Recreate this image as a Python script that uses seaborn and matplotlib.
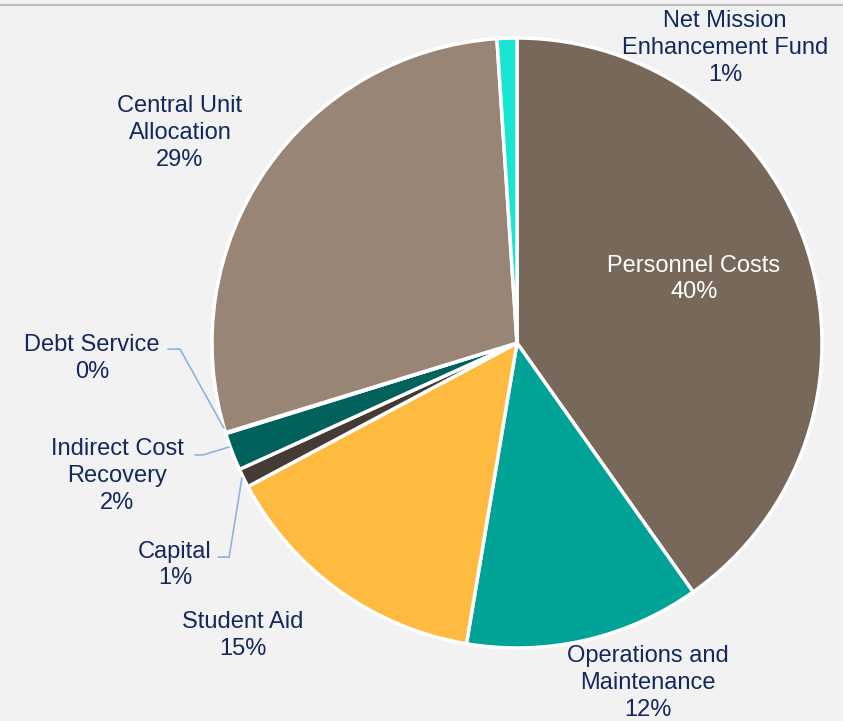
import numpy as np
import matplotlib
matplotlib.use("Agg")
import matplotlib.pyplot as plt
from matplotlib.lines import Line2D
import seaborn as sns

# data (percent of total)
categories = ["Personnel Costs", "Operations and\nMaintenance", "Student Aid", "Capital",
              "Indirect Cost\nRecovery", "Debt Service", "Central Unit\nAllocation",
              "Net Mission\nEnhancement Fund"]
values = [40.2, 12.45, 14.55, 1.0, 2.0, 0.05, 28.7, 1.05]
colors = ["#78685a", "#00a396", "#ffbb40", "#463a35", "#00625a", "#00625a", "#988576", "#19e6d2"]

# label placement (pie radius units) and styling
label_pos = [(0.58, 0.21), (0.43, -1.115), (-0.898, -0.958), (-1.121, -0.728),
             (-1.31, -0.436), (-1.393, -0.05), (-1.105, 0.688), (0.682, 0.967)]
label_col = ["white"] + ["#12285e"] * 7

sns.set_theme(style="white")
plt.rcParams["font.family"] = ["Liberation Sans", "DejaVu Sans"]

fig = plt.figure(figsize=(8.43, 7.21), dpi=100)
fig.patch.set_facecolor("#f2f2f2")
W, H = 843, 721
cx, cy, r = 517, 343, 305
ax = fig.add_axes([(cx - r) / W, (H - cy - r) / H, 2 * r / W, 2 * r / H])
ax.set_facecolor("#f2f2f2")

ax.pie(values, colors=colors, startangle=90, counterclock=False, radius=1,
       wedgeprops=dict(edgecolor="white", linewidth=2.5))
ax.set_xlim(-1, 1)
ax.set_ylim(-1, 1)
ax.axis("off")

total = sum(values)
for name, v, (x, y), c in zip(categories, values, label_pos, label_col):
    ax.text(x, y, f"{name}\n{v / total * 100:.0f}%", ha="center", va="center",
            multialignment="center", fontsize=17, color=c, linespacing=1.28, clip_on=False)

# leader lines for the small slices
leaders = [
    [(-1.144, -0.02), (-1.105, -0.02), (-0.961, -0.279)],
    [(-1.056, -0.367), (-1.03, -0.367), (-0.944, -0.341)],
    [(-0.98, -0.702), (-0.944, -0.702), (-0.902, -0.443)],
]
for pts in leaders:
    xs, ys = zip(*pts)
    ax.plot(xs, ys, color="#8db3e2", lw=1.2, clip_on=False)

fig.add_artist(Line2D([0, 1], [1 - 5 / H, 1 - 5 / H], color="#bfbfbf", lw=1.5))

fig.savefig("out.png", dpi=100, facecolor=fig.get_facecolor())
